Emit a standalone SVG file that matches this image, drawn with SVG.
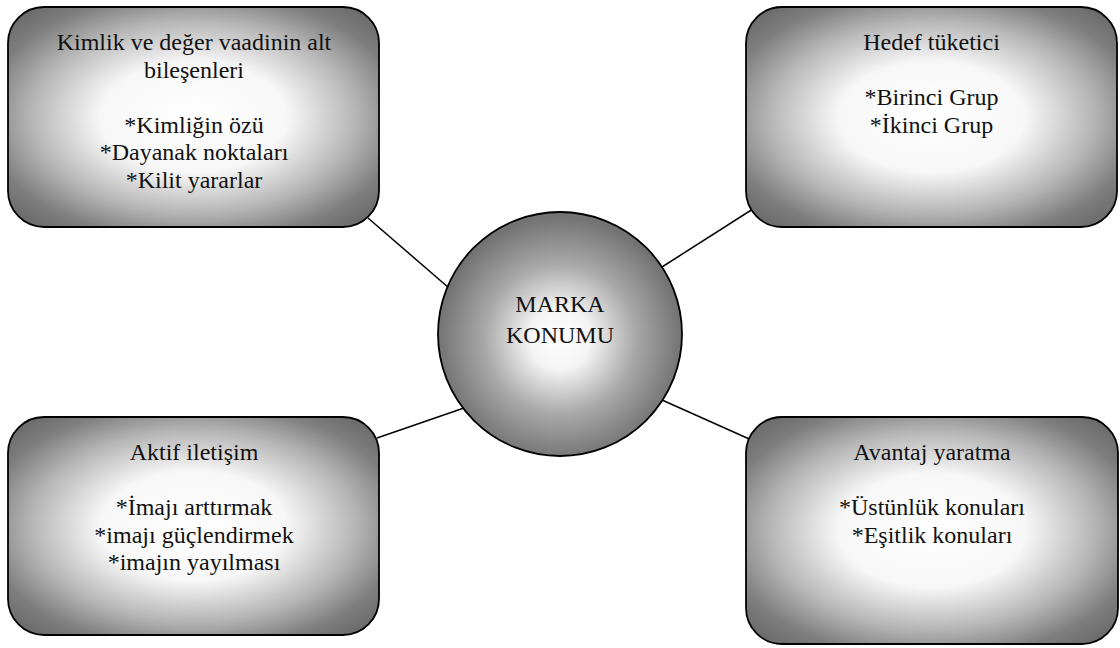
<svg xmlns="http://www.w3.org/2000/svg" width="1120" height="648" viewBox="0 0 1120 648">
  <defs>
    <radialGradient id="boxShade" cx="0.5" cy="0.5" r="0.66">
      <stop offset="0" stop-color="#ffffff"/>
      <stop offset="0.38" stop-color="#f7f7f7"/>
      <stop offset="0.66" stop-color="#b6b6b6"/>
      <stop offset="0.86" stop-color="#7e7e7e"/>
      <stop offset="1" stop-color="#6a6a6a"/>
    </radialGradient>
    <radialGradient id="ballShade" cx="0.5" cy="0.52" r="0.5">
      <stop offset="0" stop-color="#ffffff"/>
      <stop offset="0.25" stop-color="#f4f4f4"/>
      <stop offset="0.62" stop-color="#a8a8a8"/>
      <stop offset="1" stop-color="#737373"/>
    </radialGradient>
  </defs>
  <style>
    .box { fill: url(#boxShade); stroke: #000; stroke-width: 1.8; }
    .ball { fill: url(#ballShade); stroke: #000; stroke-width: 1.8; }
    .link { stroke: #000; stroke-width: 1.5; fill: none; }
    .lbl { font-family: 'Liberation Serif', 'Times New Roman', Times, 'DejaVu Serif', serif; font-size: 24px; fill: #111; text-anchor: middle; }
  </style>

  <rect width="1120" height="648" fill="#ffffff"/>

  <g id="connectors">
    <line class="link" x1="368" y1="218" x2="449" y2="288"/>
    <line class="link" x1="662" y1="267" x2="756" y2="207"/>
    <line class="link" x1="377" y1="438" x2="464" y2="408"/>
    <line class="link" x1="662" y1="400" x2="756" y2="442"/>
  </g>

  <g id="kimlik" class="lbl" font-family="Liberation Serif, serif">
    <rect class="box" x="8" y="7" width="371" height="220" rx="36" ry="36"/>
    <text x="194" y="50">Kimlik ve değer vaadinin alt</text>
    <text x="194" y="77.6">bileşenleri</text>
    <text x="194" y="132.8">*Kimliğin özü</text>
    <text x="194" y="160.4">*Dayanak noktaları</text>
    <text x="194" y="188">*Kilit yararlar</text>
  </g>

  <g id="hedef" class="lbl" font-family="Liberation Serif, serif">
    <rect class="box" x="746" y="7" width="371" height="220" rx="36" ry="36"/>
    <text x="931.5" y="50">Hedef tüketici</text>
    <text x="931.5" y="105.2">*Birinci Grup</text>
    <text x="931.5" y="132.8">*İkinci Grup</text>
  </g>

  <g id="aktif" class="lbl" font-family="Liberation Serif, serif">
    <rect class="box" x="8" y="417" width="371" height="218" rx="36" ry="36"/>
    <text x="194" y="460">Aktif iletişim</text>
    <text x="194" y="515.2">*İmajı arttırmak</text>
    <text x="194" y="542.8">*imajı güçlendirmek</text>
    <text x="194" y="570.4">*imajın yayılması</text>
  </g>

  <g id="avantaj" class="lbl" font-family="Liberation Serif, serif">
    <rect class="box" x="746" y="417" width="372" height="227" rx="36" ry="36"/>
    <text x="932" y="460">Avantaj yaratma</text>
    <text x="932" y="515.2">*Üstünlük konuları</text>
    <text x="932" y="542.8">*Eşitlik konuları</text>
  </g>

  <g id="marka" class="lbl" font-family="Liberation Serif, serif">
    <circle class="ball" cx="560" cy="334" r="122"/>
    <text x="560" y="312">MARKA</text>
    <text x="560" y="343">KONUMU</text>
  </g>
</svg>
